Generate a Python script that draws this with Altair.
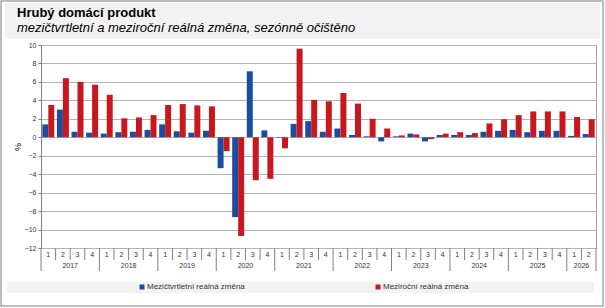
import altair as alt
import pandas as pd

# Hrubý domácí produkt – čtvrtletní změny (%), sezónně očištěno
years = [2017, 2018, 2019, 2020, 2021, 2022, 2023, 2024, 2025, 2026]
quarters_per_year = [4, 4, 4, 4, 4, 4, 4, 4, 4, 2]

series_names = ["Mezičtvrtletní reálná změna", "Meziroční reálná změna"]
series_colors = ["#1c4da1", "#c8171e"]

qoq = [1.4, 3.0, 0.6, 0.5,
       0.4, 0.55, 0.6, 0.8,
       1.4, 0.65, 0.5, 0.7,
       -3.35, -8.65, 7.15, 0.75,
       -0.05, 1.45, 1.75, 0.6,
       0.95, 0.25, 0.1, -0.45,
       0.1, 0.4, -0.45, 0.25,
       0.25, 0.25, 0.6, 0.7,
       0.8, 0.55, 0.7, 0.7,
       0.15, 0.35]

yoy = [3.5, 6.4, 6.0, 5.7,
       4.6, 2.05, 2.15, 2.4,
       3.5, 3.6, 3.45, 3.35,
       -1.5, -10.7, -4.65, -4.5,
       -1.2, 9.6, 4.05, 3.9,
       4.8, 3.65, 2.0, 0.95,
       0.2, 0.3, -0.2, 0.4,
       0.55, 0.45, 1.5, 1.95,
       2.4, 2.8, 2.8, 2.8,
       2.2, 1.95]

FONT = "Liberation Sans"
TEXT = "#333333"
GRID = "#b4b4b4"
SEP = "#808080"

# long table: one row per quarter and series
rows = []
quarter_rows = []
year_rows = []
idx = 0
for yr, nq in zip(years, quarters_per_year):
    year_rows.append({"year": str(yr), "start": idx, "n": nq})
    for q in range(1, nq + 1):
        quarter_rows.append({"idx": idx, "q": str(q)})
        rows.append({"idx": idx, "series": series_names[0], "s": 0, "value": qoq[idx]})
        rows.append({"idx": idx, "series": series_names[1], "s": 1, "value": yoy[idx]})
        idx += 1
n_quarters = idx
bars_df = pd.DataFrame(rows)
quarters_df = pd.DataFrame(quarter_rows)
years_df = pd.DataFrame(year_rows)

year_starts = set(years_df["start"]) | {n_quarters}
edges_df = pd.DataFrame({
    "edge": list(range(n_quarters + 1)),
    "major": [1 if e in year_starts else 0 for e in range(n_quarters + 1)],
})

H = 203  # plot height in px
W = 555

x_scale = alt.Scale(domain=[0, n_quarters], nice=False, zero=False)
y_scale = alt.Scale(domain=[-12, 10], nice=False, zero=False)

x_axis = alt.Axis(
    labels=False, ticks=False, domain=False, grid=False,
    title="Čtvrtletí", titleFont=FONT, titleFontSize=9, titleFontWeight="bold",
    titleColor="#000000", titleY=29, titleBaseline="middle", titleX=266,
)
y_axis = alt.Axis(
    values=list(range(-12, 11, 2)),
    grid=True, gridColor=GRID, gridWidth=1,
    domainColor=SEP, tickColor=SEP, tickSize=3,
    labelFont=FONT, labelFontSize=7, labelColor=TEXT, labelPadding=2,
    title="%", titleFont=FONT, titleFontSize=9, titleFontWeight="normal",
    titleColor="#000000", titleX=-24, titleY=H / 2, titleAngle=270,
    titleAlign="center", titleBaseline="middle",
)

one = pd.DataFrame({"k": [0]})

# light bands behind the heading and the legend, and the outer frame
title_band = alt.Chart(one).mark_rect(color="#f2f2f2").encode(
    x=alt.value(-36), x2=alt.value(559), y=alt.value(-42), y2=alt.value(-6))
legend_band = alt.Chart(one).mark_rect(color="#f2f2f2").encode(
    x=alt.value(-34), x2=alt.value(553), y=alt.value(237), y2=alt.value(248))
frame = alt.Chart(one).mark_rect(fillOpacity=0, stroke="#a6a6a6", strokeWidth=1.5).encode(
    x=alt.value(-40), x2=alt.value(562), y=alt.value(-44), y2=alt.value(261))

bars = alt.Chart(bars_df).transform_calculate(
    x0="datum.idx + 0.09 + 0.41 * datum.s",
    x1="datum.idx + 0.5 + 0.41 * datum.s",
).mark_bar().encode(
    x=alt.X("x0:Q", scale=x_scale, axis=x_axis),
    x2="x1:Q",
    y=alt.Y("value:Q", scale=y_scale, axis=y_axis),
    y2=alt.datum(0),
    color=alt.Color(
        "series:N",
        scale=alt.Scale(domain=series_names, range=series_colors),
        legend=alt.Legend(
            orient="none", legendX=97, legendY=238, direction="horizontal",
            title=None, symbolType="square", symbolSize=25, symbolStrokeWidth=0,
            labelFont=FONT, labelFontSize=8, labelColor=TEXT, labelOffset=1,
            columnPadding=129, padding=0,
        ),
    ),
)

# separators under the category axis: short between quarters, long between years
q_sep = alt.Chart(edges_df).transform_filter(alt.datum.major == 0).mark_rule(
    color=SEP, strokeWidth=1).encode(
    x=alt.X("edge:Q", scale=x_scale, axis=None), y=alt.value(H), y2=alt.value(H + 12))
y_sep = alt.Chart(edges_df).transform_filter(alt.datum.major == 1).mark_rule(
    color=SEP, strokeWidth=1).encode(
    x=alt.X("edge:Q", scale=x_scale, axis=None), y=alt.value(H), y2=alt.value(H + 23))

quarter_labels = alt.Chart(quarters_df).transform_calculate(
    mid="datum.idx + 0.5"
).mark_text(font=FONT, fontSize=7, color=TEXT, baseline="middle").encode(
    x=alt.X("mid:Q", scale=x_scale, axis=None), y=alt.value(H + 7), text="q:N")

year_labels = alt.Chart(years_df).transform_calculate(
    mid="datum.start + datum.n / 2"
).mark_text(font=FONT, fontSize=7, color=TEXT, baseline="middle").encode(
    x=alt.X("mid:Q", scale=x_scale, axis=None), y=alt.value(H + 18), text="year:N")

chart = alt.layer(
    title_band, legend_band, frame, bars, q_sep, y_sep, quarter_labels, year_labels
).properties(
    width=W, height=H,
    title=alt.TitleParams(
        text="Hrubý domácí produkt",
        subtitle="mezičtvrtletní a meziroční reálná změna, sezónně očištěno",
        anchor="start", frame="group", dx=-24, offset=-35,
        font=FONT, fontSize=13, fontWeight="bold", color="#000000",
        subtitleFont=FONT, subtitleFontSize=13, subtitleFontStyle="italic",
        subtitleColor="#000000", subtitlePadding=2,
    ),
    autosize=alt.AutoSizeParams(type="none"),
    padding={"left": 41, "top": 45, "right": 9, "bottom": 60},
    background="#ffffff",
).configure_view(stroke="#a0a0a0", strokeWidth=1)

chart.save("out.html", embed_options={"renderer": "svg", "actions": False})
